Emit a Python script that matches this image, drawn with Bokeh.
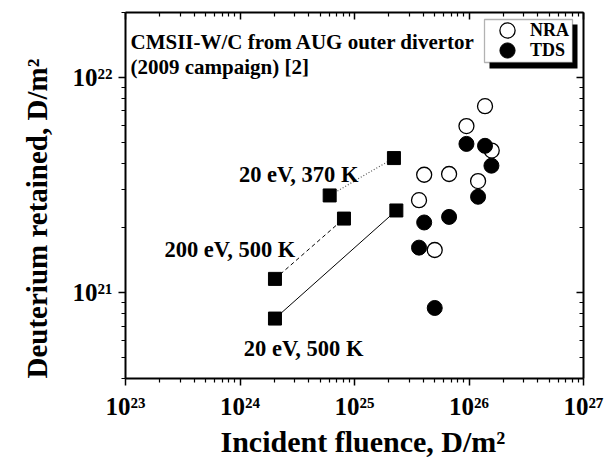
from bokeh.plotting import figure
from bokeh.models import (FixedTicker, LogAxis, CustomJSTickFormatter, Label, Legend,
                          LegendItem, BoxAnnotation, Range1d, Title)
from bokeh.embed import file_html
from bokeh.resources import INLINE

# ---------------- data ----------------
nra_fluence = [1.38e26, 9.5e25, 1.58e26, 4.06e25, 6.7e25, 1.2e26, 3.66e25, 5.02e25]
nra_retained = [7.35e21, 5.94e21, 4.57e21, 3.53e21, 3.56e21, 3.3e21, 2.69e21, 1.58e21]
tds_fluence = [9.5e25, 1.38e26, 1.57e26, 1.2e26, 4.06e25, 6.7e25, 3.66e25, 5.02e25]
tds_retained = [4.91e21, 4.81e21, 3.89e21, 2.79e21, 2.12e21, 2.25e21, 1.62e21, 8.5e20]

lab_20ev_370k_fluence = [6.07e24, 2.21e25]
lab_20ev_370k_retained = [2.83e21, 4.22e21]
lab_200ev_500k_fluence = [2.02e24, 8.09e24]
lab_200ev_500k_retained = [1.16e21, 2.21e21]
lab_20ev_500k_fluence = [2.02e24, 2.32e25]
lab_20ev_500k_retained = [7.59e20, 2.41e21]

x_major_ticks = [1e23, 1e24, 1e25, 1e26, 1e27]
y_major_ticks = [1e21, 1e22]
series_labels = ["NRA", "TDS"]
lab_labels = ["20 eV, 370 K", "200 eV, 500 K", "20 eV, 500 K"]
title_lines = ["CMSII-W/C from AUG outer divertor", "(2009 campaign) [2]"]
x_title = "Incident fluence, D/m\u00b2"
y_title = "Deuterium retained, D/m\u00b2"

FONT = "Liberation Serif"


def minor_of(majors):
    out = []
    for m in majors[:-1]:
        out += [k * m for k in range(2, 10)]
    out += [k * majors[0] / 10 for k in range(2, 10)]
    out += [k * majors[-1] for k in range(2, 10)]
    return out


x_ticker = FixedTicker(ticks=x_major_ticks, minor_ticks=minor_of(x_major_ticks))
y_ticker = FixedTicker(ticks=y_major_ticks, minor_ticks=minor_of(y_major_ticks))

sup_fmt = CustomJSTickFormatter(code="""
const sup = {"0":"\u2070","1":"\u00b9","2":"\u00b2","3":"\u00b3","4":"\u2074",
             "5":"\u2075","6":"\u2076","7":"\u2077","8":"\u2078","9":"\u2079","-":"\u207b"};
const e = Math.round(Math.log10(tick));
return "10" + String(e).split("").map(c => sup[c]).join("");
""")
blank_fmt = CustomJSTickFormatter(code='return "";')

p = figure(width=613, height=457, x_axis_type="log", y_axis_type="log",
           x_range=Range1d(1e23, 1e27), y_range=Range1d(4e20, 2e22),
           output_backend="svg", toolbar_location=None,
           min_border_left=125, min_border_right=30, min_border_top=12, min_border_bottom=77)
p.grid.visible = False
p.outline_line_color = None
p.background_fill_color = "white"
p.border_fill_color = "white"


def style_axis(ax, inward):
    ax.axis_line_width = 2
    ax.axis_line_color = "black"
    ax.major_tick_line_width = 1.5
    ax.minor_tick_line_width = 1.2
    ax.major_tick_line_color = "black"
    ax.minor_tick_line_color = "black"
    if inward:
        ax.major_tick_in, ax.major_tick_out = 7, 0
        ax.minor_tick_in, ax.minor_tick_out = 4, 0
        ax.major_label_text_font_size = "0px"
        ax.major_label_standoff = 0
        ax.formatter = blank_fmt
    else:
        ax.major_tick_in, ax.major_tick_out = 0, 7
        ax.minor_tick_in, ax.minor_tick_out = 0, 4
        ax.major_label_text_font = FONT
        ax.major_label_text_font_style = "bold"
        ax.major_label_text_font_size = "25px"
        ax.major_label_text_color = "black"
        ax.formatter = sup_fmt


xa = p.xaxis[0]
ya = p.yaxis[0]
xa.ticker = x_ticker
ya.ticker = y_ticker
style_axis(xa, False)
style_axis(ya, False)
xa.major_label_standoff = 7
ya.major_label_standoff = 6

top_ax = LogAxis(ticker=x_ticker)
right_ax = LogAxis(ticker=y_ticker)
style_axis(top_ax, True)
style_axis(right_ax, True)
p.add_layout(top_ax, "above")
p.add_layout(right_ax, "right")

# axis titles as side titles (outside the axes)
p.add_layout(Title(text=x_title, align="left", offset=95, standoff=0,
                   vertical_align="bottom", text_font=FONT, text_font_style="bold",
                   text_font_size="30px", text_color="black"), "below")
p.add_layout(Title(text=y_title, align="left", offset=0, standoff=34,
                   vertical_align="bottom", text_font=FONT, text_font_style="bold",
                   text_font_size="29px", text_color="black"), "left")

# lab data: lines + squares
p.line(lab_20ev_370k_fluence, lab_20ev_370k_retained, line_color="#555555", line_width=1.2, line_dash="1 2")
p.line(lab_200ev_500k_fluence, lab_200ev_500k_retained, line_color="black", line_width=1, line_dash="4 3")
p.line(lab_20ev_500k_fluence, lab_20ev_500k_retained, line_color="black", line_width=1)
for xs, ys in [(lab_20ev_370k_fluence, lab_20ev_370k_retained),
               (lab_200ev_500k_fluence, lab_200ev_500k_retained),
               (lab_20ev_500k_fluence, lab_20ev_500k_retained)]:
    p.scatter(xs, ys, marker="square", size=13, color="black")

# tokamak samples
r_nra = p.scatter(nra_fluence, nra_retained, marker="circle", size=15,
                  fill_color="white", line_color="black", line_width=1.3)
r_tds = p.scatter(tds_fluence, tds_retained, marker="circle", size=15,
                  fill_color="black", line_color="black")

# text labels for lab series
lab_pos = [(9.78e23, 3.55e21), (2.19e23, 1.58e21), (1.08e24, 5.5e20)]
for txt, (lx, ly) in zip(lab_labels, lab_pos):
    p.add_layout(Label(x=lx, y=ly, text=txt, text_font=FONT, text_font_style="bold",
                       text_font_size="22.5px", text_color="black", text_baseline="alphabetic"))

# title lines (frame-relative screen units)
for txt, ty in zip(title_lines, [336.7, 311.7]):
    p.add_layout(Label(x=5, y=ty, x_units="screen", y_units="screen", text=txt,
                       text_font=FONT, text_font_style="bold", text_font_size="21px",
                       text_color="black", text_baseline="alphabetic"))

# legend box with shadow
shadow = BoxAnnotation(left=364, right=452, top=354, bottom=310,
                       left_units="screen", right_units="screen",
                       top_units="screen", bottom_units="screen",
                       fill_color="black", fill_alpha=1, line_color=None)
box = BoxAnnotation(left=359, right=447, top=359, bottom=316,
                    left_units="screen", right_units="screen",
                    top_units="screen", bottom_units="screen",
                    fill_color="white", fill_alpha=1, line_color="black", line_width=1.3)
p.add_layout(shadow)
p.add_layout(box)

for label, rend, loc in [(series_labels[0], r_nra, (363, 329)),
                         (series_labels[1], r_tds, (363, 309))]:
    lg = Legend(items=[LegendItem(label=label, renderers=[rend])],
                location=loc, padding=0, margin=0, spacing=0,
                glyph_height=38, glyph_width=38, label_standoff=4,
                border_line_color=None, background_fill_alpha=0,
                label_text_font=FONT, label_text_font_style="bold",
                label_text_font_size="18px", label_text_color="black")
    p.add_layout(lg)

with open("out.html", "w", encoding="utf-8") as f:
    f.write(file_html(p, INLINE))
